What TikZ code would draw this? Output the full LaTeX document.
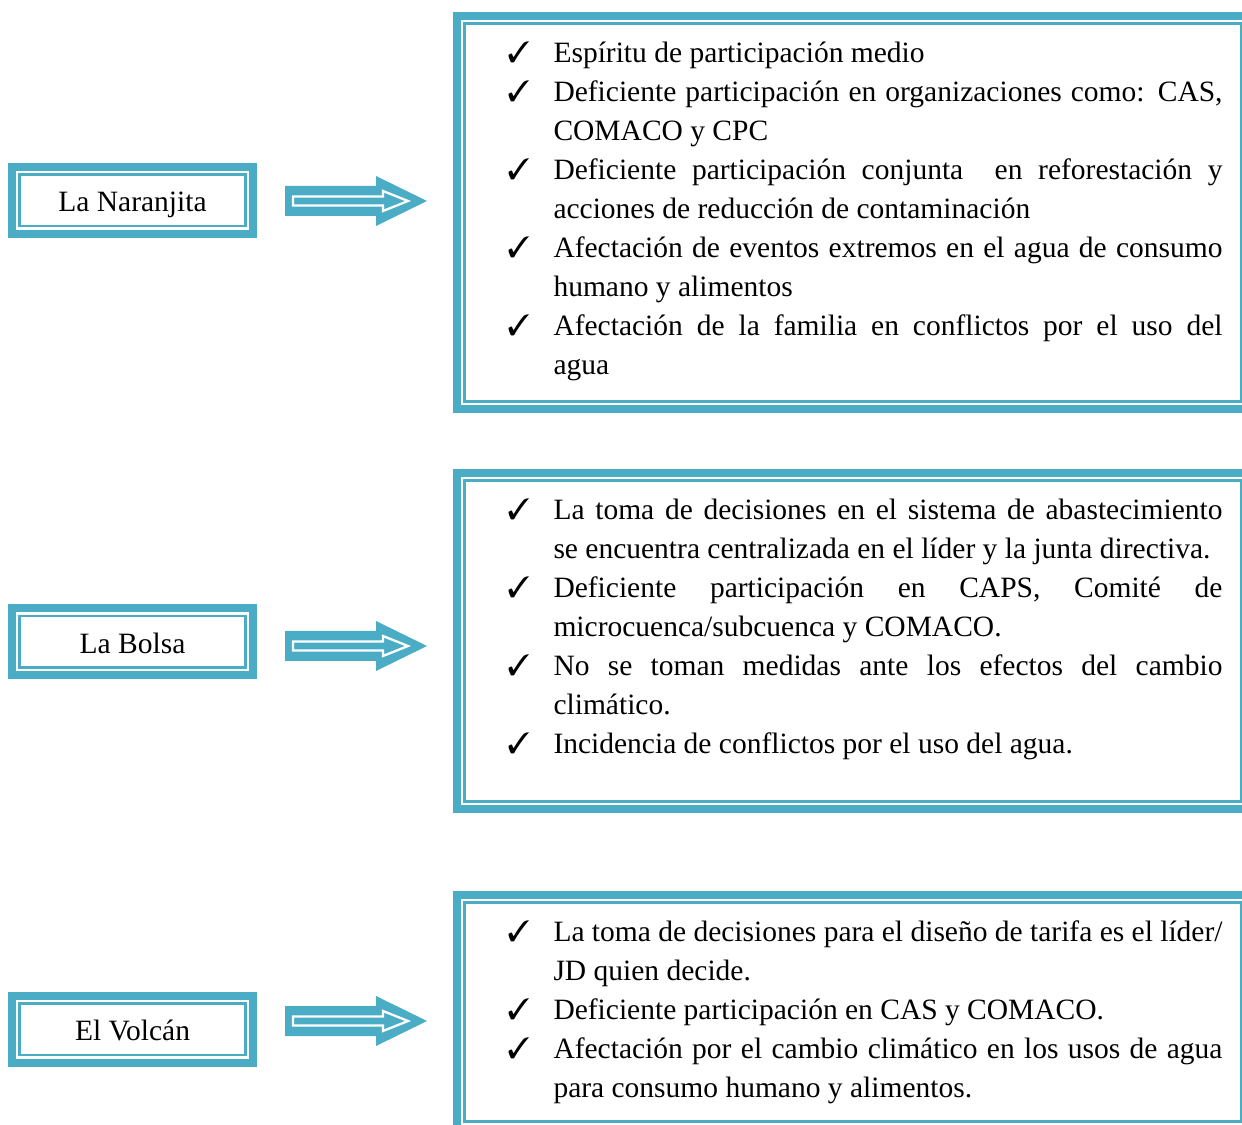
\documentclass[tikz,border=0pt]{standalone}
\usepackage{fontspec}
\setmainfont{Liberation Serif}
\usepackage{pifont}
\usetikzlibrary{positioning,calc}
\definecolor{frameblue}{HTML}{4BACC6}
\hyphenpenalty=10000
\exhyphenpenalty=10000
\tolerance=10000
\newcommand{\chkitem}{\par\noindent\hangindent=18.4pt\hangafter=1\makebox[18.4pt][l]{\ding{51}}\strut}
\tikzset{
  sitebox/.style={rectangle, draw=frameblue, line width=3.2pt, fill=white,
    minimum width=96.4pt, minimum height=26.8pt, inner sep=0pt, align=center,
    font=\fontsize{11.8}{15.6}\selectfont, text height=9.6pt, text depth=0.6pt},
  findframe/.style={rectangle, draw=frameblue, line width=3.2pt,
    minimum width=316.8pt, inner sep=0pt},
  innerframe/.style={rectangle, draw=frameblue, line width=1pt, inner sep=0pt},
  findtext/.style={anchor=north west, inner sep=0pt, text width=286pt, align=justify,
    font=\fontsize{11.8}{15.6}\selectfont},
  arrowbody/.style={fill=frameblue},
  arrowline/.style={draw=white, line width=0.9pt, line join=miter},
}
\begin{document}
\begin{tikzpicture}[x=0.4pt, y=-0.4pt]
  \useasboundingbox (0,0) rectangle (1242,1125);
  \clip (0,0) rectangle (1242,1125);

  % Sites (left column)
  \node[sitebox] (naranjita) at (132.5,200.5) {La Naranjita};
  \node[sitebox] (bolsa) at (132.5,642) {La Bolsa};
  \node[sitebox] (volcan) at (132.5,1029) {El Volcán};

  % Frames of the findings (right column, cut at the page edge)
  \node[findframe, minimum height=157.2pt] (findA) at (853,212.5) {};
  \node[findframe, minimum height=134.4pt] (findB) at (853,641) {};
  \node[findframe, minimum height=93.6pt] (findC) at (853,1012) {};

  % Thin inner line of every frame
  \foreach \fr in {naranjita,bolsa,volcan}
    \node[innerframe, minimum width=90.2pt, minimum height=20.6pt] (\fr-in) at (\fr.center) {};
  \node[innerframe, minimum width=310.6pt, minimum height=151pt] (findA-in) at (findA.center) {};
  \node[innerframe, minimum width=310.6pt, minimum height=128.2pt] (findB-in) at (findB.center) {};
  \node[innerframe, minimum width=310.6pt, minimum height=87.4pt] (findC-in) at (findC.center) {};

  % Block arrows between site and findings
  \coordinate (arrA) at (285,201);
  \coordinate (arrB) at (285,646);
  \coordinate (arrC) at (285,1021);
  \foreach \a in {arrA,arrB,arrC}{
    \fill[arrowbody, shift={(\a)}] (0,-15) -- (91,-15) -- (91,-25) -- (142,0)
      -- (91,25) -- (91,15) -- (0,15) -- cycle;
    \draw[arrowline, shift={(\a)}] (8,-4.5) -- (98,-4.5) -- (98,-10) -- (123,0)
      -- (98,10) -- (98,4.5) -- (8,4.5) -- cycle;
  }

  % Findings
  \node[findtext] (listA) at (507,22.7) {%
    \chkitem Espíritu de participación medio
    \chkitem Deficiente participación en organizaciones como: CAS,\linebreak COMACO y CPC
    \chkitem Deficiente participación conjunta\ \ en reforestación y\linebreak acciones de reducción de contaminación
    \chkitem Afectación de eventos extremos en el agua de consumo\linebreak humano y alimentos
    \chkitem Afectación de la familia en conflictos por el uso del\linebreak agua\par};
  \node[findtext] (listB) at (507,479.7) {%
    \chkitem La toma de decisiones en el sistema de abastecimiento\linebreak se encuentra centralizada en el líder y la junta directiva.
    \chkitem Deficiente participación en CAPS, Comité de\linebreak microcuenca/subcuenca y COMACO.
    \chkitem No se toman medidas ante los efectos del cambio\linebreak climático.
    \chkitem Incidencia de conflictos por el uso del agua.\par};
  \node[findtext] (listC) at (507,901.7) {%
    \chkitem La toma de decisiones para el diseño de tarifa es el líder/\linebreak JD quien decide.
    \chkitem Deficiente participación en CAS y COMACO.
    \chkitem Afectación por el cambio climático en los usos de agua\linebreak para consumo humano y alimentos.\par};

\end{tikzpicture}
\end{document}
